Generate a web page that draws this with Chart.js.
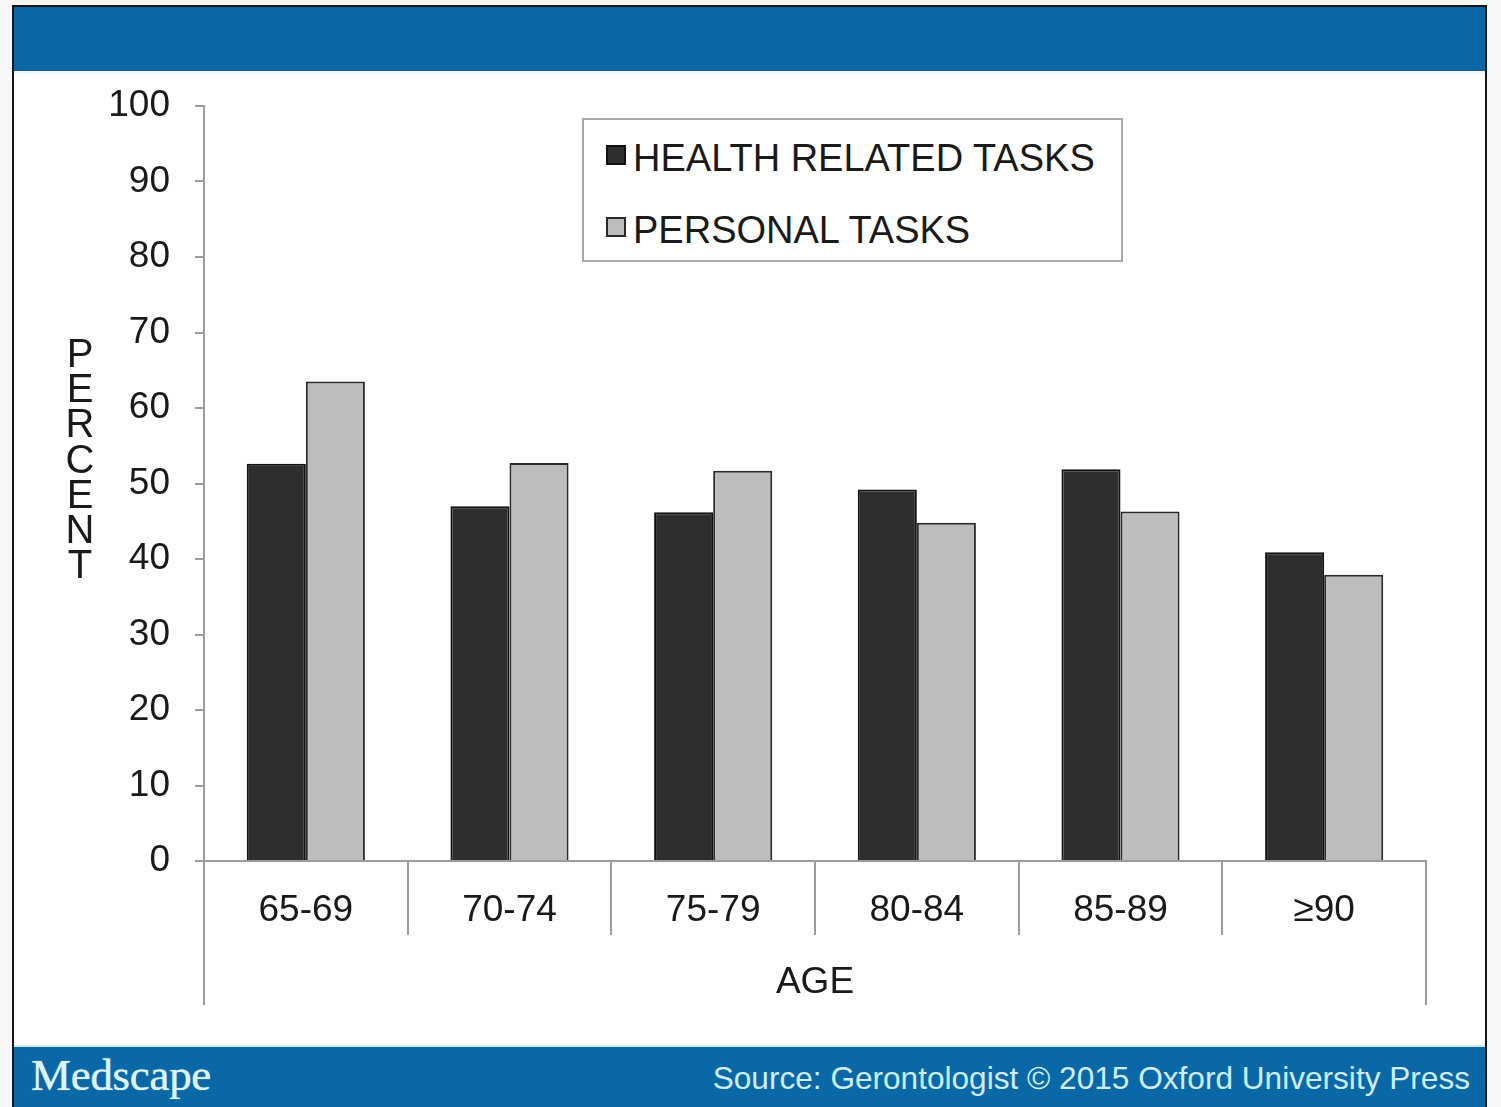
<!DOCTYPE html>
<html><head><meta charset="utf-8">
<script src="https://cdn.jsdelivr.net/npm/chart.js@4.4.0/dist/chart.umd.min.js"></script>
<style>
html,body{margin:0;padding:0;background:#f7f7f7;width:1501px;height:1107px;overflow:hidden;font-family:"Liberation Sans",Arial,sans-serif;}
#frame{position:absolute;left:12px;top:5px;width:1475px;height:1110px;box-sizing:border-box;border:2px solid #151515;background:#fff;}
#topbar{position:absolute;left:14px;top:7px;width:1471px;height:63px;background:#0b68a6;border-bottom:1px solid #2b5877;}
#topline{position:absolute;left:14px;top:71px;width:1471px;height:3px;background:#eaf8fd;}
#chartbox{position:absolute;left:14px;top:71px;width:1471px;height:974px;}
#bottombar{position:absolute;left:14px;top:1045px;width:1471px;height:62px;background:#0b68a6;border-top:2px solid #c6ecf8;}
#brand{position:absolute;left:31px;top:1049px;font-family:"Liberation Serif","DejaVu Serif",serif;font-size:45px;line-height:52px;color:#dbf4ff;letter-spacing:-0.3px;text-shadow:0 0 1px #dbf4ff;}
#source{position:absolute;right:31px;top:1060px;font-size:31.6px;line-height:36px;color:#cdeeff;white-space:nowrap;}
#legend{position:absolute;left:582px;top:118px;width:541px;height:144px;box-sizing:border-box;border:2px solid #a8a8a8;background:#fff;}
.sw{position:absolute;width:20px;height:20px;box-sizing:border-box;border:2px solid #222;}
.lt{position:absolute;font-size:38px;line-height:38px;color:#1a1a1a;white-space:nowrap;}
</style></head>
<body>
<div id="frame"></div>
<div id="topbar"></div>
<div id="topline"></div>
<div id="chartbox"><canvas id="c" width="1471" height="974"></canvas></div>
<div id="legend"></div>
<div id="bottombar"></div>
<div id="brand">Medscape</div>
<div id="source">Source: Gerontologist © 2015 Oxford University Press</div>
<script>
const categories = ['65-69', '70-74', '75-79', '80-84', '85-89', '≥90'];
const seriesNames = ['HEALTH RELATED TASKS', 'PERSONAL TASKS'];
const healthRelated = [52.6, 47.0, 46.2, 49.2, 51.9, 40.9];
const personalTasks = [63.5, 52.7, 51.7, 44.8, 46.3, 37.9];
const yTicksMin = 0, yTicksMax = 100, yTickStep = 10;
const xTitle = 'AGE';
const yTitle = 'PERCENT';

const fills = ['#2e2e2e', '#bdbdbd'];
const borders = ['#111111', '#2a2a2a'];
const AXIS = '#9c9c9c';
const TEXT = '#1a1a1a';
const FONT = '"Liberation Sans", Arial, sans-serif';

// legend
const leg = document.getElementById('legend');
seriesNames.forEach((n, i) => {
  const sw = document.createElement('div');
  sw.className = 'sw';
  sw.style.left = '22px';
  sw.style.top = (25 + i * 72) + 'px';
  sw.style.background = fills[i];
  sw.style.borderColor = borders[i];
  leg.appendChild(sw);
  const t = document.createElement('div');
  t.className = 'lt';
  t.style.left = '49px';
  t.style.top = (19 + i * 72) + 'px';
  t.textContent = n;
  leg.appendChild(t);
});

const extPlugin = {
  id: 'ext',
  afterDraw(chart) {
    const {ctx, chartArea, scales} = chart;
    const y0 = scales.y.getPixelForValue(0);
    ctx.save();
    ctx.strokeStyle = AXIS;
    ctx.lineWidth = 2;
    ctx.beginPath();
    ctx.moveTo(chartArea.left, y0);
    ctx.lineTo(chartArea.left, y0 + 144);
    ctx.moveTo(chartArea.right, y0);
    ctx.lineTo(chartArea.right, y0 + 144);
    ctx.stroke();
    ctx.fillStyle = TEXT;
    ctx.font = '40px ' + FONT;
    ctx.textAlign = 'center';
    ctx.textBaseline = 'alphabetic';
    yTitle.split('').forEach((ch, i) => {
      ctx.fillText(ch, 66, 296 + i * 35.2);
    });
    ctx.restore();
  }
};

new Chart(document.getElementById('c'), {
  type: 'bar',
  data: {
    labels: categories,
    datasets: [
      {label: seriesNames[0], data: healthRelated, backgroundColor: fills[0], borderColor: borders[0], borderWidth: 2},
      {label: seriesNames[1], data: personalTasks, backgroundColor: fills[1], borderColor: borders[1], borderWidth: 2}
    ]
  },
  options: {
    responsive: false,
    animation: false,
    events: [],
    layout: {padding: {left: 0, right: 59, top: 35, bottom: 0}},
    datasets: {bar: {categoryPercentage: 0.58, barPercentage: 1.0}},
    plugins: {legend: {display: false}, tooltip: {enabled: false}, title: {display: false}},
    scales: {
      x: {
        grid: {display: true, drawOnChartArea: false, drawTicks: true, tickLength: 74, color: AXIS, tickColor: AXIS, lineWidth: 2, offset: true},
        border: {display: true, color: AXIS, width: 2},
        ticks: {color: TEXT, font: {size: 37, family: FONT}, padding: -46, maxRotation: 0, autoSkip: false},
        title: {display: true, text: xTitle, color: TEXT, font: {size: 37, family: FONT}, padding: {top: 0, bottom: 40}},
        afterFit(s) { s.height = 184; s.paddingLeft = 0; s.paddingRight = 0; }
      },
      y: {
        min: yTicksMin, max: yTicksMax,
        ticks: {stepSize: yTickStep, color: TEXT, font: {size: 37, family: FONT}, padding: 25},
        grid: {display: true, drawOnChartArea: false, drawTicks: true, tickLength: 9, color: AXIS, tickColor: AXIS, lineWidth: 2},
        border: {display: true, color: AXIS, width: 2},
        afterFit(s) { s.width = 190; s.paddingTop = 0; s.paddingBottom = 0; }
      }
    }
  },
  plugins: [extPlugin]
});
</script>
</body></html>
